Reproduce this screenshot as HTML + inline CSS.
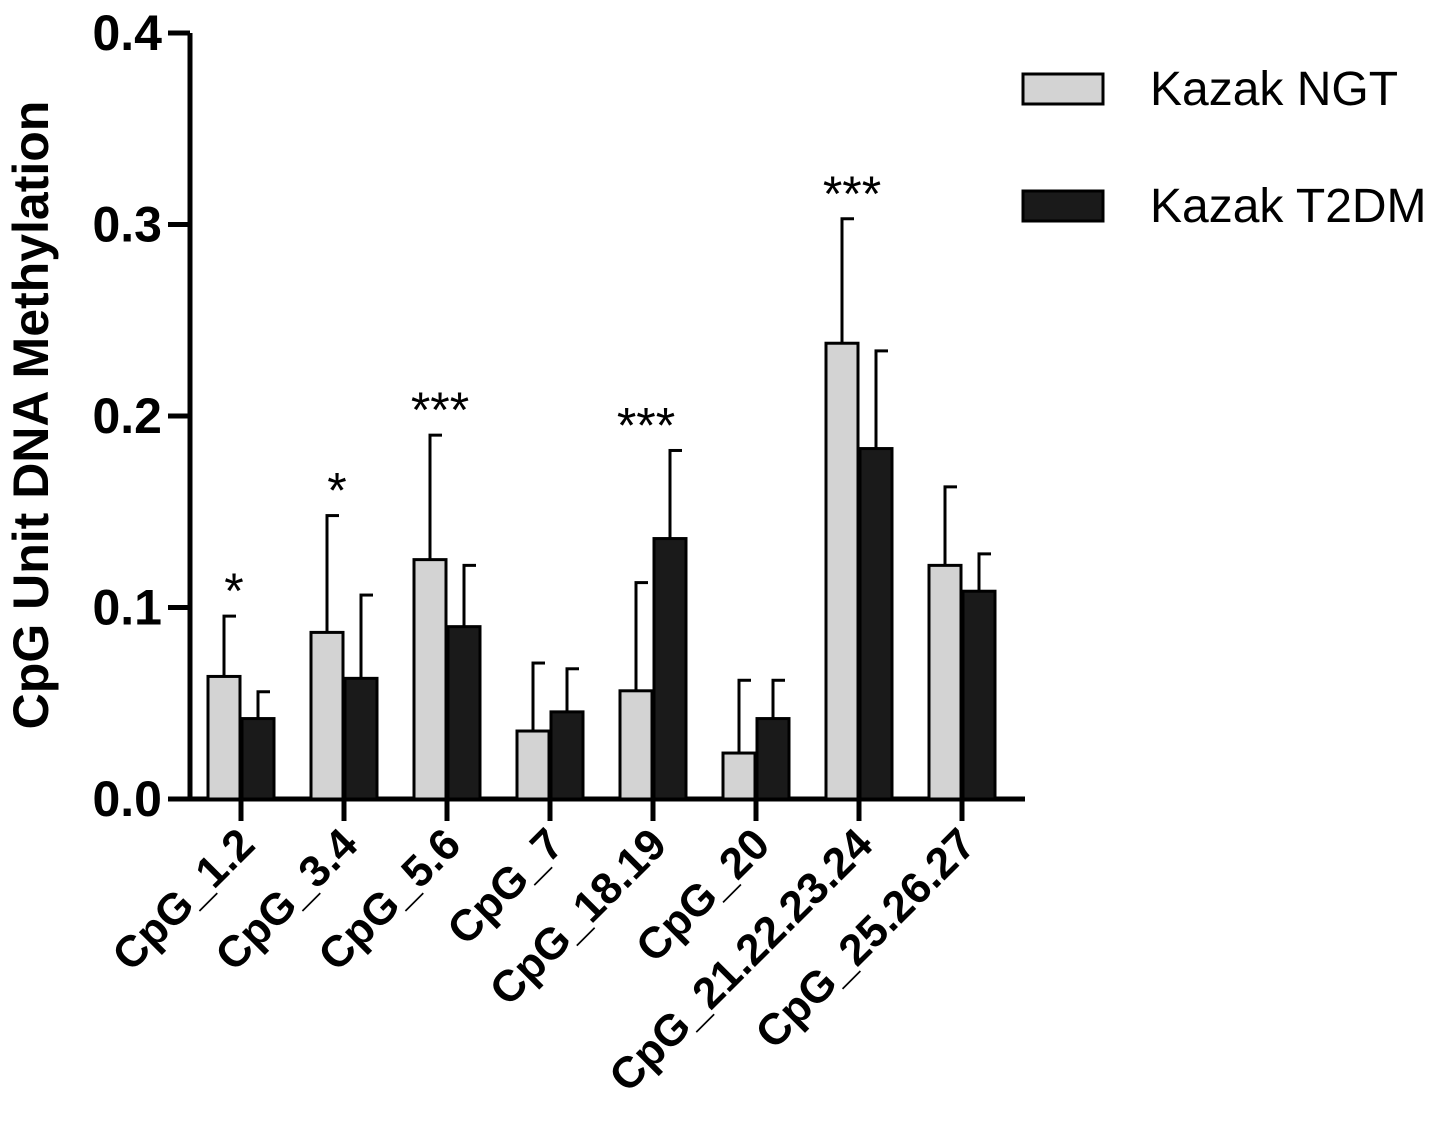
<!DOCTYPE html>
<html><head><meta charset="utf-8">
<style>
html,body{margin:0;padding:0;background:#fff;}
svg{display:block;font-family:"Liberation Sans",Arial,sans-serif;}
</style></head>
<body>
<svg id="chart" width="1441" height="1144" viewBox="0 0 1441 1144" xmlns="http://www.w3.org/2000/svg"></svg>
<script>
const categories = ["CpG_1.2","CpG_3.4","CpG_5.6","CpG_7","CpG_18.19","CpG_20","CpG_21.22.23.24","CpG_25.26.27"];
const ngtValues = [0.064,0.087,0.125,0.0355,0.0565,0.024,0.238,0.122];
const ngtErrors = [0.0315,0.061,0.065,0.0355,0.0565,0.038,0.065,0.041];
const t2dmValues = [0.042,0.063,0.090,0.0455,0.136,0.042,0.183,0.1085];
const t2dmErrors = [0.014,0.0435,0.032,0.0225,0.046,0.020,0.051,0.0195];
const stars = ["*","*","***","","***","","***",""];
const yTicks = [0,0.1,0.2,0.3,0.4];
const yTickLabels = ["0.0","0.1","0.2","0.3","0.4"];

const NS="http://www.w3.org/2000/svg";
const svg=document.getElementById('chart');
const y0=799, y1=33, yMax=0.4;
const yScale=v=>y0-(v/yMax)*(y0-y1);
const xStart=190, step=103, firstCenter=241;
const xCenter=i=>firstCenter+i*step;
const barW=34;
function mk(tag,attrs){const e=document.createElementNS(NS,tag);for(const k in attrs)e.setAttribute(k,attrs[k]);svg.appendChild(e);return e;}

let ax=mk('line',{x1:xStart,y1:y1,x2:xStart,y2:y0+2,stroke:'#000','stroke-width':5});


ax=mk('line',{x1:xStart-2,y1:y0,x2:1025,y2:y0,stroke:'#000','stroke-width':5});



yTicks.forEach((t,i)=>{
  const y=yScale(t);
  const tk=mk('line',{x1:xStart-22,y1:y,x2:xStart,y2:y,stroke:'#000','stroke-width':5});
  
  
  const lb=mk('text',{x:162,y:y+17,'text-anchor':'end','font-size':50,'font-weight':'bold'});
  lb.textContent=yTickLabels[i];
  
  
});

const yt=mk('text',{x:0,y:0,transform:'translate(48,415) rotate(-90)','text-anchor':'middle','font-size':50,'font-weight':'bold'});
yt.textContent='CpG Unit DNA Methylation';



function errBar(xc,v,e){
  const top=yScale(v+e), base=yScale(v);
  const l=mk('line',{x1:xc,y1:base,x2:xc,y2:top,stroke:'#000','stroke-width':3});
  
  
  const c=mk('line',{x1:xc-1.5,y1:top,x2:xc+12,y2:top,stroke:'#000','stroke-width':3});
  
  
}

categories.forEach((c,i)=>{
  const xc=xCenter(i);
  const tk=mk('line',{x1:xc,y1:y0,x2:xc,y2:y0+22,stroke:'#000','stroke-width':5});
  
  
  const nx=xc-barW+1, ny=yScale(ngtValues[i]);
  const nb=mk('rect',{x:nx,y:ny,width:barW-2,height:y0-ny,fill:'#d3d3d3',stroke:'#000','stroke-width':3});
  
  
  errBar(nx+(barW-2)/2,ngtValues[i],ngtErrors[i]);
  const tx=xc+1, ty=yScale(t2dmValues[i]);
  const tb=mk('rect',{x:tx,y:ty,width:barW-2,height:y0-ty,fill:'#1a1a1a',stroke:'#000','stroke-width':3});
  
  
  errBar(tx+(barW-2)/2,t2dmValues[i],t2dmErrors[i]);
  if(stars[i]){
    const topV=Math.max(ngtValues[i]+ngtErrors[i],t2dmValues[i]+t2dmErrors[i]);
    const st=mk('text',{x:xc-7,y:yScale(topV)-8,'text-anchor':'middle','font-size':50});
    st.textContent=stars[i];
    
    
  }
  const lb=mk('text',{x:0,y:0,transform:`translate(${xc+16},${y0+48}) rotate(-45)`,'text-anchor':'end','font-size':44,'font-weight':'bold'});
  lb.textContent=c;
  
  
});

const leg=[['Kazak NGT','#d3d3d3',89],['Kazak T2DM','#1a1a1a',206]];
leg.forEach(([t,f,y])=>{
  const r=mk('rect',{x:1023,y:y-15,width:80,height:30,fill:f,stroke:'#000','stroke-width':3});
  
  
  const tx=mk('text',{x:1150,y:y+16,'font-size':48});
  tx.textContent=t;
  
  
});
</script>
</body></html>
